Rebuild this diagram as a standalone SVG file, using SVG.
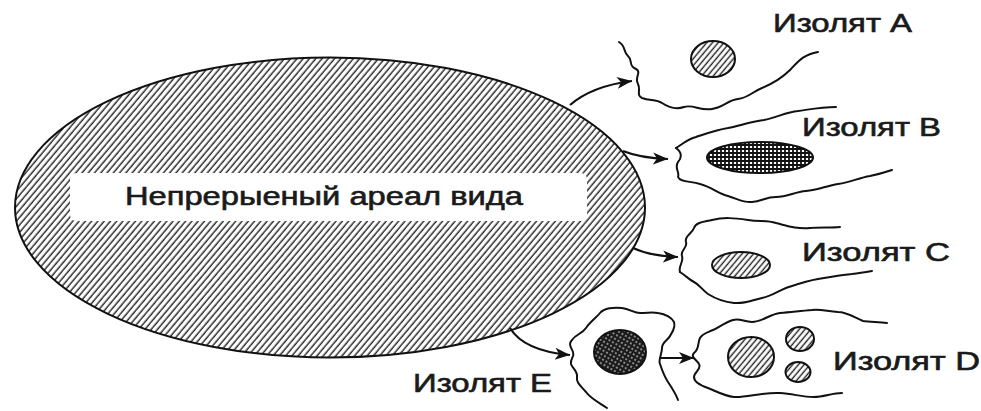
<svg xmlns="http://www.w3.org/2000/svg" width="981" height="411" viewBox="0 0 981 411">
<defs>
<pattern id="hatch" patternUnits="userSpaceOnUse" width="4.8" height="10" patternTransform="rotate(40)">
<rect width="4.8" height="10" fill="#fff"/>
<line x1="1.2" y1="0" x2="1.2" y2="10" stroke="#2a2a2a" stroke-width="1.5"/>
</pattern>
<pattern id="hatchs" patternUnits="userSpaceOnUse" width="4.4" height="10" patternTransform="rotate(40)">
<rect width="4.4" height="10" fill="#fff"/>
<line x1="1.2" y1="0" x2="1.2" y2="10" stroke="#222" stroke-width="1.4"/>
</pattern>
<pattern id="grid" patternUnits="userSpaceOnUse" width="4" height="4">
<rect width="4" height="4" fill="#fff"/>
<path d="M0,1H4M1,0V4" stroke="#111" stroke-width="1.8"/>
</pattern>
<pattern id="dots" patternUnits="userSpaceOnUse" width="4" height="4" patternTransform="rotate(30)">
<rect width="4" height="4" fill="#1a1a1a"/>
<circle cx="2" cy="2" r="0.9" fill="#bbb"/>
</pattern>
<marker id="ah" markerUnits="userSpaceOnUse" markerWidth="18" markerHeight="14" refX="15" refY="6" orient="auto">
<path d="M0,0 L15,6 L0,12 L4,6 Z" fill="#111"/>
</marker>
</defs>
<style>
.ln{fill:none;stroke:#111;stroke-width:2;stroke-linecap:round;stroke-linejoin:round}
.sh{stroke:#111;stroke-width:2}
.lbl{font-family:"Liberation Sans",Arial,sans-serif;font-size:25px;fill:#1a1a1a;stroke:#1a1a1a;stroke-width:0.6}
.arr{fill:none;stroke:#111;stroke-width:2.2;marker-end:url(#ah)}
</style>
<rect width="981" height="411" fill="#fff"/>

<g id="range">
<ellipse cx="330" cy="207.5" rx="315" ry="150" fill="url(#hatch)" class="sh"/>
<rect x="70" y="173" width="517" height="48" rx="6" fill="#fff"/>
<text class="lbl" x="125" y="205" textLength="398" lengthAdjust="spacingAndGlyphs">Непрерыеный ареал вида</text>
</g>

<g id="isolateA">
<path class="ln" d="M619,42 C626,46 623,52 628,56 C633,60 628,66 636,69 C642,72 634,78 638,84 C641,90 636,95 642,98 C650,101 656,99 662,103 C668,107 675,110 684,107 C693,104 700,111 712,109 C724,107 728,100 738,99 C748,98 752,92 762,88 C774,83 782,78 790,70 C798,62 802,55 818,52"/>
<ellipse cx="713" cy="59" rx="22" ry="18" fill="url(#hatchs)" class="sh"/>
<text class="lbl" x="773" y="32" textLength="139" lengthAdjust="spacingAndGlyphs">Изолят A</text>
</g>

<g id="isolateB">
<path class="ln" d="M676,148 C684,143 688,139 696,137 C708,133 716,130 728,128 C742,125 750,122 764,120 C776,118 786,112 798,111 C812,109 822,107 836,107"/>
<path class="ln" d="M676,148 C682,152 682,158 678,162 C674,168 680,172 678,177 C680,182 690,181 700,184 C712,187 718,194 728,196 C738,199 744,203 752,202 C762,201 766,197 776,197 C788,197 794,192 806,191 C818,190 826,186 838,184 C852,182 858,178 870,176 C880,174 886,172 892,170"/>
<ellipse cx="760" cy="157.5" rx="53" ry="15.5" fill="url(#grid)" class="sh"/>
<text class="lbl" x="802" y="136" textLength="139" lengthAdjust="spacingAndGlyphs">Изолят B</text>
</g>

<g id="isolateC">
<path class="ln" d="M680,272 C678,266 684,262 682,256 C680,250 688,248 686,242 C684,236 692,234 694,228 C696,222 704,222 712,220 C724,217 734,218 748,220 C760,222 766,220 776,223 C788,226 796,229 810,228 C822,227 830,228 840,227"/>
<path class="ln" d="M680,272 C686,276 690,280 694,282 C700,285 702,290 708,294 C716,299 724,302 734,303 C746,304 752,300 762,298 C772,296 776,292 786,288 C798,284 806,281 818,279 C832,277 840,275 852,274 C860,273 866,272 872,271"/>
<ellipse cx="741" cy="265" rx="29" ry="13" fill="url(#hatchs)" class="sh"/>
<text class="lbl" x="802" y="261" textLength="148" lengthAdjust="spacingAndGlyphs">Изолят C</text>
</g>

<g id="isolateE">
<path class="ln" d="M607,408 C598,402 590,398 586,392 C581,386 576,383 577,377 C578,371 572,368 571,364 C570,358 575,357 573,352 C571,347 568,344 572,340 C576,334 582,334 586,328 C590,322 596,318 600,313 C604,308 614,307 622,308 C630,309 634,313 640,313 C648,313 652,312 658,313 C666,314 672,318 674,322 C676,328 672,332 670,336 C668,340 662,342 662,348 C662,354 658,360 660,364 C662,370 664,376 668,382 C672,388 676,394 678,400"/>
<ellipse cx="620" cy="352" rx="26" ry="22" fill="url(#dots)" class="sh"/>
<text class="lbl" x="413" y="392" textLength="139" lengthAdjust="spacingAndGlyphs">Изолят E</text>
</g>

<g id="isolateD">
<path class="ln" d="M887,323 C878,322 870,322 863,321 C852,316 846,312 838,312 C826,311 820,309 812,310 C800,311 792,312 780,313 C770,314 762,322 752,322 C744,322 740,318 733,320 C724,323 718,328 713,330 C706,333 702,334 700,338 C697,344 700,348 694,353 C690,357 697,360 699,364 C702,369 694,372 694,377 C694,383 702,386 708,388 C716,391 724,396 734,397 C746,398 762,392 780,393 C794,394 802,397 814,397 C824,397 832,393 842,393"/>
<ellipse cx="751" cy="357" rx="23" ry="20" fill="url(#hatchs)" class="sh"/>
<ellipse cx="800" cy="339" rx="14" ry="12" fill="url(#hatchs)" class="sh"/>
<ellipse cx="798" cy="372" rx="12.5" ry="10" fill="url(#hatchs)" class="sh"/>
<text class="lbl" x="833" y="370" textLength="147" lengthAdjust="spacingAndGlyphs">Изолят  D</text>
</g>

<g id="connectors">
<path class="arr" d="M570,105 Q592,86 632,81"/>
<path class="arr" d="M623,151 Q640,158 668,159"/>
<path class="arr" d="M633,248 Q650,256 678,257"/>
<path class="arr" d="M510,328 Q524,351 570,355"/>
<path class="arr" d="M660,358 L694,358"/>
</g>
</svg>
